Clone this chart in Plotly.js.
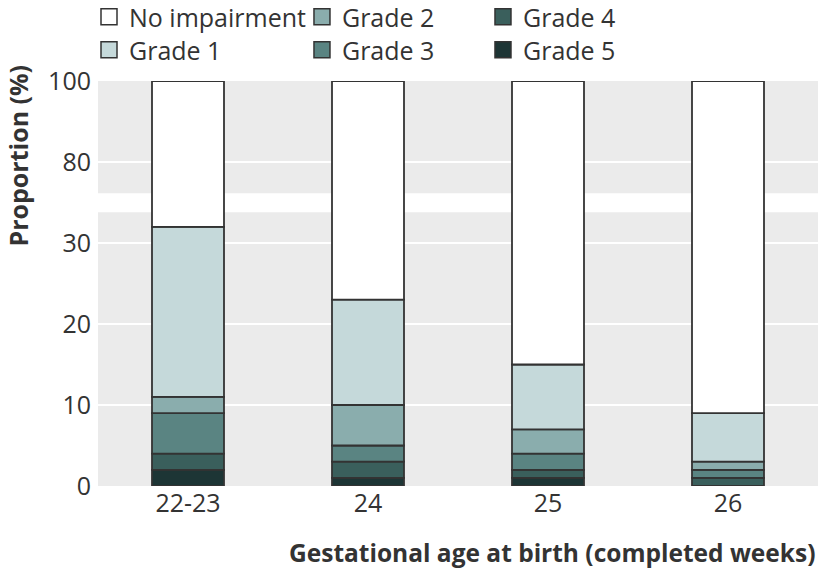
<!DOCTYPE html>
<html>
<head>
<meta charset="utf-8">
<script src="https://cdn.plot.ly/plotly-3.0.1.min.js"></script>
<style>html,body{margin:0;padding:0;background:#fff;}#chart{width:820px;height:572px;}</style>
</head>
<body>
<div id="chart"></div>
<script>
// ---- data (percent of children) ----
const categories = ['22-23', '24', '25', '26'];
const grade5 = [2, 1, 1, 0];
const grade4 = [2, 2, 1, 1];
const grade3 = [5, 2, 2, 1];
const grade2 = [2, 5, 3, 1];
const grade1 = [21, 13, 8, 6];
const noImpairment = [68, 77, 85, 91];
const seriesNames = ['Grade 5', 'Grade 4', 'Grade 3', 'Grade 2', 'Grade 1', 'No impairment'];
const tickValues = [0, 10, 20, 30, 80, 100];
const tickLabels = ['0', '10', '20', '30', '80', '100'];

// ---- broken axis: lower 0-33.8 full scale, upper 72.3-100 half scale ----
const lowerTop = 33.8, upperBottom = 72.3;
function toAxis(v) {
  if (v <= lowerTop) return v;
  return 40 + (v - 80) / 2;
}

const colors = ['#1d3535', '#3a5f5c', '#5a8482', '#8aadad', '#c5d9da', '#ffffff'];
const series = [grade5, grade4, grade3, grade2, grade1, noImpairment];
const edge = '#333333';
const font = 'Open Sans, sans-serif';

const traces = [];
const cum = categories.map(() => 0);
series.forEach((vals, si) => {
  const base = [], height = [];
  vals.forEach((v, i) => {
    const b = toAxis(cum[i]);
    const t = toAxis(cum[i] + v);
    base.push(b);
    height.push(t - b);
    cum[i] += v;
  });
  traces.push({
    type: 'bar', x: categories, y: height, base: base,
    width: 0.4, name: seriesNames[si], showlegend: false,
    marker: {color: colors[si], line: {color: edge, width: 1.8}},
    hoverinfo: 'skip'
  });
});

// legend entries: one small legend per entry, arranged in 3 columns x 2 rows
const legendSlots = [
  // [legend id, series index, x (paper), y (paper)]
  ['legend',  5, -0.0125, 1.158],
  ['legend2', 4, -0.0125, 1.0765],
  ['legend3', 3,  0.2833, 1.158],
  ['legend4', 2,  0.2833, 1.0765],
  ['legend5', 1,  0.5347, 1.158],
  ['legend6', 0,  0.5347, 1.0765]
];
const layoutLegends = {};
legendSlots.forEach(([lg, si, lx, ly]) => {
  traces.push({
    type: 'scatter', mode: 'markers', x: [null], y: [null],
    name: seriesNames[si], legend: lg, showlegend: true,
    marker: {symbol: 'square', size: 16, color: colors[si], line: {color: edge, width: 1.5}}
  });
  layoutLegends[lg] = {
    orientation: 'v', yanchor: 'middle', xanchor: 'left', x: lx, y: ly,
    font: {family: font, size: 25, color: '#333'},
    bgcolor: 'rgba(0,0,0,0)', itemsizing: 'trace'
  };
});

const layout = Object.assign({
  width: 820, height: 572,
  margin: {l: 98, r: 2, t: 81, b: 86, autoexpand: false},
  paper_bgcolor: '#ffffff',
  plot_bgcolor: '#ebebeb',
  barmode: 'overlay',
  font: {family: font, size: 25, color: '#333'},
  xaxis: {
    type: 'category', showgrid: false, zeroline: false, showline: false, automargin: false,
    ticks: '', tickfont: {family: font, size: 25, color: '#333'}
  },
  yaxis: {
    range: [0, toAxis(100)], tickvals: tickValues.map(toAxis), ticktext: tickLabels,
    showgrid: true, gridcolor: '#ffffff', gridwidth: 2.5, zeroline: false, showline: false,
    automargin: false,
    ticks: '', ticklabelstandoff: 6, tickfont: {family: font, size: 25, color: '#333'}
  },
  shapes: [{
    type: 'rect', xref: 'paper', yref: 'y', x0: 0, x1: 1,
    y0: toAxis(lowerTop), y1: toAxis(upperBottom),
    fillcolor: '#ffffff', line: {width: 0}, layer: 'below'
  }],
  annotations: [
    {text: '<b>Proportion (%)</b>', xref: 'paper', yref: 'paper', x: -0.1117, y: 0.815,
     xanchor: 'center', yanchor: 'middle', textangle: -90, showarrow: false,
     font: {family: font, size: 25, color: '#333'}},
    {text: '<b>Gestational age at birth (completed weeks)</b>', xref: 'paper', yref: 'paper',
     x: 1, y: -0.163, xanchor: 'right', yanchor: 'middle', showarrow: false,
     font: {family: font, size: 24.5, color: '#333'}}
  ]
}, layoutLegends);

Plotly.newPlot('chart', traces, layout, {displayModeBar: false, staticPlot: true});
</script>
</body>
</html>
